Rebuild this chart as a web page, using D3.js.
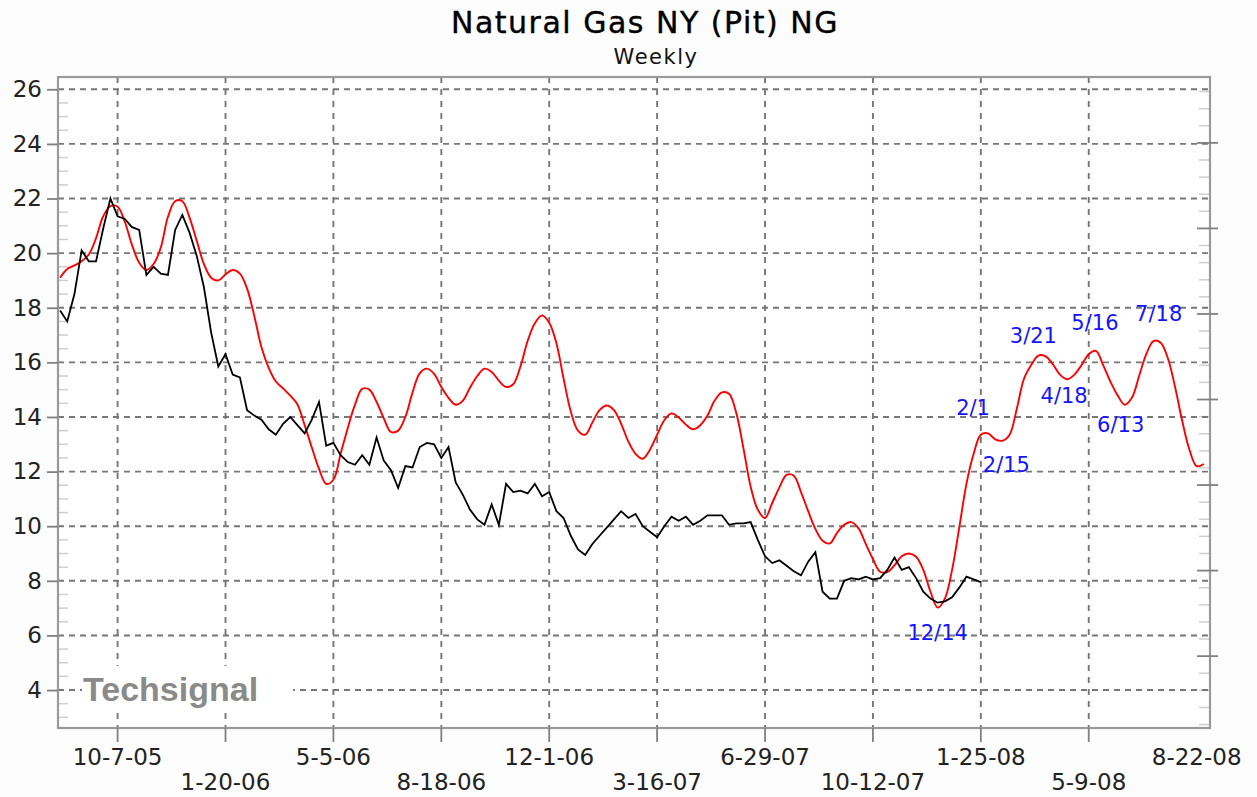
<!DOCTYPE html>
<html>
<head>
<meta charset="utf-8">
<script src="https://cdn.jsdelivr.net/npm/d3@7"></script>
<style>
  body { margin: 0; background: #fdfdfd; }
  text { font-family: "DejaVu Sans", Verdana, sans-serif; }
</style>
</head>
<body>
<script>
// Declare global Variables

const width = 1257; const height = 797;
const plotLeft = 58; const plotRight = 1210;
const plotTop = 77; const plotBottom = 728;

// first weekly bar of both series
const startDate = new Date(2005, 7, 12);

// weekly closes (black)
const priceValues = [
  17.9, 17.5, 18.5, 20.1, 19.7, 19.7, 20.9, 22.0, 21.35, 21.25,
  20.95, 20.85, 19.2, 19.5, 19.25, 19.2, 20.85, 21.4, 20.75, 19.9,
  18.75, 17.1, 15.85, 16.3, 15.55, 15.45, 14.25, 14.05, 13.9, 13.55,
  13.35, 13.75, 14.0, 13.7, 13.4, 13.9, 14.55, 12.95, 13.05, 12.6,
  12.35, 12.25, 12.6, 12.25, 13.25, 12.4, 12.05, 11.4, 12.2, 12.15,
  12.9, 13.05, 13.0, 12.5, 12.9, 11.6, 11.15, 10.6, 10.25, 10.05,
  10.8, 10.05, 11.55, 11.25, 11.3, 11.2, 11.55, 11.1, 11.25, 10.55,
  10.3, 9.65, 9.15, 8.95, 9.35, 9.65, 9.95, 10.25, 10.55, 10.3,
  10.45, 10.0, 9.8, 9.6, 10.0, 10.35, 10.2, 10.35, 10.05, 10.2,
  10.4, 10.4, 10.4, 10.05, 10.1, 10.1, 10.15, 9.5, 8.9, 8.65,
  8.75, 8.55, 8.35, 8.2, 8.7, 9.05, 7.6, 7.35, 7.35, 8.0,
  8.1, 8.05, 8.15, 8.05, 8.1, 8.4, 8.85, 8.4, 8.5, 8.1,
  7.6, 7.35, 7.2, 7.25, 7.4, 7.75, 8.15, 8.05, 7.95
];

// cycle projection (red), runs past the last close
const cycleValues = [
  19.1, 19.42, 19.55, 19.7, 19.95, 20.55, 21.35, 21.72, 21.7, 21.15,
  20.3, 19.65, 19.38, 19.6, 20.2, 21.33, 21.9, 21.9, 21.3, 20.45,
  19.6, 19.1, 19.0, 19.22, 19.38, 19.25, 18.7, 17.7, 16.55, 15.8,
  15.3, 15.05, 14.78, 14.46, 13.7, 12.88, 12.1, 11.55, 11.7, 12.65,
  13.6, 14.45, 15.03, 15.0, 14.55, 13.95, 13.45, 13.5, 14.0, 14.9,
  15.6, 15.77, 15.58, 15.1, 14.7, 14.45, 14.6, 15.08, 15.5, 15.77,
  15.65, 15.33, 15.1, 15.2, 15.85, 16.78, 17.43, 17.72, 17.45, 16.7,
  15.4, 14.2, 13.5, 13.35, 13.8, 14.25, 14.42, 14.25, 13.75, 13.1,
  12.65, 12.47, 12.8, 13.35, 13.88, 14.13, 13.98, 13.72, 13.55, 13.7,
  14.05, 14.6, 14.9, 14.85, 14.15, 12.85, 11.45, 10.6, 10.3, 10.85,
  11.42, 11.88, 11.85, 11.25, 10.55, 9.9, 9.47, 9.37, 9.75, 10.05,
  10.15, 9.92, 9.35, 8.8, 8.33, 8.32, 8.57, 8.9, 9.0, 8.88,
  8.4, 7.6, 7.02, 7.35, 8.4, 9.95, 11.55, 12.65, 13.35, 13.4,
  13.18, 13.13, 13.35, 14.3, 15.4, 15.9, 16.25, 16.22, 15.93, 15.55,
  15.38, 15.55, 15.9, 16.3, 16.42, 15.9, 15.3, 14.8, 14.45, 14.7,
  15.5, 16.3, 16.78, 16.72, 16.15, 15.1, 13.85, 12.8, 12.2, 12.28
];

// turning point labels on the red curve
const turnLabels = ["12/14", "2/1", "2/15", "3/21", "4/18", "5/16", "6/13", "7/18"];
const turnWeeks = [122, 129, 131, 136, 140, 144, 148, 153];

// x axis labels
const tickLabels = ["10-7-05", "1-20-06", "5-5-06", "8-18-06", "12-1-06", "3-16-07",
  "6-29-07", "10-12-07", "1-25-08", "5-9-08", "8-22-08"];
const tickDates = [
  new Date(2005, 9, 7), new Date(2006, 0, 20), new Date(2006, 4, 5), new Date(2006, 7, 18),
  new Date(2006, 11, 1), new Date(2007, 2, 16), new Date(2007, 5, 29), new Date(2007, 9, 12),
  new Date(2008, 0, 25), new Date(2008, 4, 9), new Date(2008, 7, 22)
];

const yTicks = [4, 6, 8, 10, 12, 14, 16, 18, 20, 22, 24, 26];
// unlabelled scale on the right edge
const rightTicks = [10, 20, 30, 40, 50, 60, 70];

// label offsets from their turning point (centre x, baseline y)
const turnOffsets = {
  "12/14": [0, 32], "2/1": [-15, -18], "2/15": [4, 31], "3/21": [-5, -13],
  "4/18": [-3, 24], "5/16": [-1, -21], "6/13": [-4, 27], "7/18": [-2, -22]
};

const weekDate = i => d3.timeWeek.offset(startDate, i);

//X Axis
const x = d3.scaleTime()
  .domain([new Date(2005, 7, 10), new Date(2008, 8, 4)])
  .range([plotLeft, plotRight]);

//Y Axis
const y = d3.scaleLinear()
  .domain([2.61, 26.45])
  .range([plotBottom, plotTop]);

const yRight = d3.scaleLinear()
  .domain([1.6, 77.7])
  .range([plotBottom, plotTop]);

const svg = d3.select("body")
  .append("svg")
  .attr("width", width)
  .attr("height", height);

// plot background
svg.append("rect")
  .attr("x", plotLeft).attr("y", plotTop)
  .attr("width", plotRight - plotLeft).attr("height", plotBottom - plotTop)
  .attr("fill", "#ffffff");

// titles
svg.append("text")
  .attr("x", 645).attr("y", 33)
  .attr("text-anchor", "middle")
  .style("font-size", "30px")
  .style("letter-spacing", "1.5px")
  .attr("fill", "#000")
  .attr("stroke", "#000").attr("stroke-width", 0.4)
  .text("Natural Gas NY (Pit) NG");

svg.append("text")
  .attr("x", 656).attr("y", 64)
  .attr("text-anchor", "middle")
  .style("font-size", "21px")
  .style("letter-spacing", "1.5px")
  .attr("fill", "#111")
  .text("Weekly");

// grid dates: leave out a date too close to the right border
const gridDates = tickDates.filter(d => x(d) < plotRight - 20);

// minor ticks inside left edge, every half unit
const minorLeft = d3.range(3, 26.5, 0.5).filter(v => v % 2 !== 0);
svg.append("g").selectAll("line")
  .data(minorLeft)
  .enter().append("line")
  .attr("x1", plotLeft).attr("x2", plotLeft + 10)
  .attr("y1", d => y(d)).attr("y2", d => y(d))
  .attr("stroke", "#cfcfcf").attr("stroke-width", 1.5);

// minor ticks inside right edge
const minorRight = d3.range(2, 78, 2).filter(v => v % 10 !== 0);
svg.append("g").selectAll("line")
  .data(minorRight)
  .enter().append("line")
  .attr("x1", plotRight - 11).attr("x2", plotRight)
  .attr("y1", d => yRight(d)).attr("y2", d => yRight(d))
  .attr("stroke", "#cfcfcf").attr("stroke-width", 1.5);

// horizontal grid
svg.append("g").selectAll("line")
  .data(yTicks)
  .enter().append("line")
  .attr("x1", plotLeft).attr("x2", plotRight)
  .attr("y1", d => y(d)).attr("y2", d => y(d))
  .attr("stroke", "#777777").attr("stroke-width", 1.9)
  .attr("stroke-dasharray", "6,5");

// vertical grid
svg.append("g").selectAll("line")
  .data(gridDates)
  .enter().append("line")
  .attr("x1", d => x(d)).attr("x2", d => x(d))
  .attr("y1", plotTop).attr("y2", plotBottom)
  .attr("stroke", "#777777").attr("stroke-width", 1.9)
  .attr("stroke-dasharray", "6,6");

// watermark sits on a white patch over the grid
svg.append("rect")
  .attr("x", 82).attr("y", 666)
  .attr("width", 211).attr("height", 46)
  .attr("fill", "#ffffff");

svg.append("text")
  .attr("x", 83).attr("y", 701)
  .style("font-family", "'Liberation Sans', Arial, sans-serif")
  .style("font-weight", "bold")
  .style("font-size", "34px")
  .attr("fill", "#8a8a8a")
  .text("Techsignal");

// lines
const blackLine = d3.line()
  .x((d, i) => x(weekDate(i)))
  .y(d => y(d));

const redLine = d3.line()
  .x((d, i) => x(weekDate(i)))
  .y(d => y(d))
  .curve(d3.curveCatmullRom);

svg.append("path")
  .datum(cycleValues)
  .attr("d", redLine)
  .attr("fill", "none")
  .attr("stroke", "#ff0000")
  .attr("stroke-width", 1.9);

svg.append("path")
  .datum(priceValues)
  .attr("d", blackLine)
  .attr("fill", "none")
  .attr("stroke", "#000000")
  .attr("stroke-width", 1.8);

// turning point labels
svg.append("g").selectAll("text")
  .data(turnLabels)
  .enter().append("text")
  .attr("x", (d, i) => x(weekDate(turnWeeks[i])) + turnOffsets[d][0])
  .attr("y", (d, i) => y(cycleValues[turnWeeks[i]]) + turnOffsets[d][1])
  .attr("text-anchor", "middle")
  .style("font-size", "21px")
  .attr("fill", "#1414ff")
  .text(d => d);

// plot border
svg.append("rect")
  .attr("x", plotLeft).attr("y", plotTop)
  .attr("width", plotRight - plotLeft).attr("height", plotBottom - plotTop)
  .attr("fill", "none")
  .attr("stroke", "#999999").attr("stroke-width", 2.2);

// left axis
const leftAxis = svg.append("g")
  .attr("transform", `translate(${plotLeft},0)`)
  .call(d3.axisLeft(y).tickValues(yTicks).tickSize(11).tickPadding(5));
leftAxis.select(".domain").remove();
leftAxis.selectAll(".tick line").attr("stroke", "#808080").attr("stroke-width", 1.8);
leftAxis.selectAll(".tick text")
  .style("font-size", "23px")
  .style("font-family", "'DejaVu Sans', Verdana, sans-serif")
  .attr("fill", "#222");

// right axis, ticks only
svg.append("g").selectAll("line")
  .data(rightTicks)
  .enter().append("line")
  .attr("x1", plotRight - 13).attr("x2", plotRight + 8)
  .attr("y1", d => yRight(d)).attr("y2", d => yRight(d))
  .attr("stroke", "#808080").attr("stroke-width", 1.8);

// bottom ticks
svg.append("g").selectAll("line")
  .data(gridDates)
  .enter().append("line")
  .attr("x1", d => x(d)).attr("x2", d => x(d))
  .attr("y1", plotBottom).attr("y2", plotBottom + 14)
  .attr("stroke", "#808080").attr("stroke-width", 1.8);

// bottom labels, staggered over two rows
svg.append("g").selectAll("text")
  .data(tickLabels)
  .enter().append("text")
  .attr("x", (d, i) => x(tickDates[i]))
  .attr("y", (d, i) => i % 2 === 0 ? 765 : 790)
  .attr("text-anchor", "middle")
  .style("font-size", "23px")
  .attr("fill", "#222")
  .text(d => d);
</script>
</body>
</html>
